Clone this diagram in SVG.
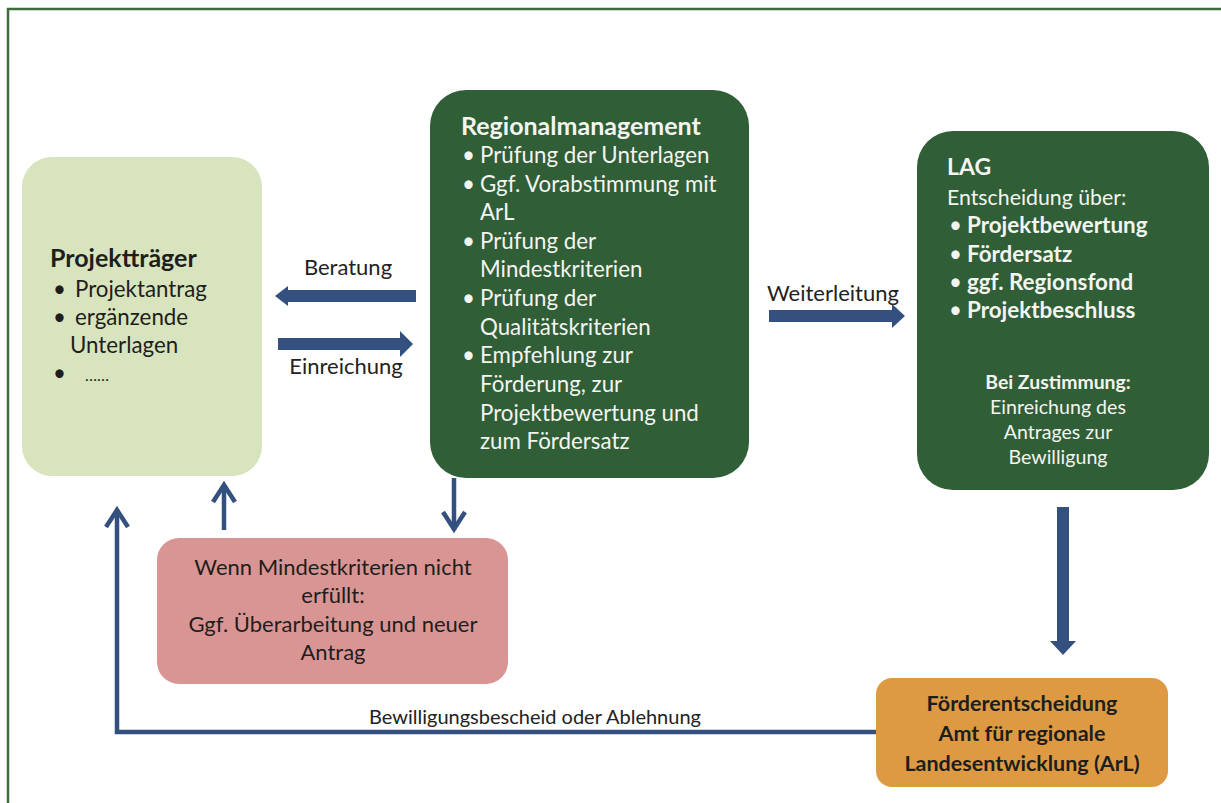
<svg xmlns="http://www.w3.org/2000/svg" width="1221" height="803" viewBox="0 0 1221 803">
<style>
text{font-family:Lato,"Liberation Sans",sans-serif;}
.w{fill:#f4f4f0;font-size:22.3px;}
.wb{fill:#f4f4f0;font-size:22.4px;font-weight:bold;}
.k{fill:#1e1e1e;font-size:22.3px;}
.kb{fill:#1e1e1e;font-size:22px;font-weight:bold;}
.t{font-size:25px;font-weight:bold;}
.lbl{fill:#222;font-size:22px;}
.ln{fill:none;stroke:#33507f;stroke-width:4.5;stroke-linecap:butt;stroke-linejoin:miter;}
.fat{fill:#33507f;}
</style>
<rect x="0" y="0" width="1221" height="803" fill="#ffffff"/>
<rect x="8" y="9" width="1240" height="820" fill="none" stroke="#3f6b3f" stroke-width="2.5"/>

<g id="projekttraeger">
<rect x="22" y="157" width="240" height="319" rx="30" fill="#d7e4bd"/>
<text class="kb t" x="50" y="267">Projektträger</text>
<text class="k" x="53" y="297">•</text><text class="k" x="75" y="297">Projektantrag</text>
<text class="k" x="53" y="325">•</text><text class="k" x="75" y="325">ergänzende</text>
<text class="k" x="70" y="353">Unterlagen</text>
<text class="k" x="53" y="381">•</text><text class="k" x="85" y="381" style="font-size:16px">……</text>
</g>

<g id="regionalmanagement">
<rect x="430" y="90" width="319" height="388" rx="36" fill="#2f5e37"/>
<text class="wb t" x="461" y="135">Regionalmanagement</text>
<text class="w" x="462" y="163">•</text><text class="w" x="480" y="163">Prüfung der Unterlagen</text>
<text class="w" x="462" y="192">•</text><text class="w" x="480" y="192">Ggf. Vorabstimmung mit</text>
<text class="w" x="480" y="220">ArL</text>
<text class="w" x="462" y="249">•</text><text class="w" x="480" y="249">Prüfung der</text>
<text class="w" x="480" y="277">Mindestkriterien</text>
<text class="w" x="462" y="306">•</text><text class="w" x="480" y="306">Prüfung der</text>
<text class="w" x="480" y="335">Qualitätskriterien</text>
<text class="w" x="462" y="363">•</text><text class="w" x="480" y="363">Empfehlung zur</text>
<text class="w" x="480" y="392">Förderung, zur</text>
<text class="w" x="480" y="421">Projektbewertung und</text>
<text class="w" x="480" y="449">zum Fördersatz</text>
</g>

<g id="lag">
<rect x="917" y="131" width="292" height="359" rx="36" fill="#2f5e37"/>
<text class="wb" x="947" y="175" style="font-size:23px">LAG</text>
<text class="w" x="947" y="205" style="font-size:21.3px">Entscheidung über:</text>
<text class="w" x="949" y="233">•</text><text class="wb" x="967" y="233">Projektbewertung</text>
<text class="w" x="949" y="262">•</text><text class="wb" x="967" y="262">Fördersatz</text>
<text class="w" x="949" y="290">•</text><text class="wb" x="967" y="290">ggf. Regionsfond</text>
<text class="w" x="949" y="318">•</text><text class="wb" x="967" y="318">Projektbeschluss</text>
<g text-anchor="middle">
<text class="wb" x="1058" y="389" style="font-size:19.4px">Bei Zustimmung:</text>
<text class="w" x="1058" y="414" style="font-size:19.6px">Einreichung des</text>
<text class="w" x="1058" y="439" style="font-size:19.6px">Antrages zur</text>
<text class="w" x="1058" y="464" style="font-size:19.6px">Bewilligung</text>
</g>
</g>

<g id="mindestkriterien">
<rect x="157" y="538" width="351" height="146" rx="22" fill="#d99594"/>
<g text-anchor="middle">
<text class="k" x="333" y="575" style="font-size:22px">Wenn Mindestkriterien nicht</text>
<text class="k" x="333" y="603" style="font-size:22px">erfüllt:</text>
<text class="k" x="333" y="632" style="font-size:22px">Ggf. Überarbeitung und neuer</text>
<text class="k" x="333" y="660" style="font-size:22px">Antrag</text>
</g>
</g>

<g id="arl">
<rect x="876" y="678" width="292" height="109" rx="16" fill="#dd9a42"/>
<g text-anchor="middle">
<text class="kb" x="1022" y="711" style="font-size:21.5px">Förderentscheidung</text>
<text class="kb" x="1022" y="741" style="font-size:21.5px">Amt für regionale</text>
<text class="kb" x="1022" y="771" style="font-size:21.5px">Landesentwicklung (ArL)</text>
</g>
</g>

<g id="connectors">
<!-- Beratung -->
<polygon class="fat" points="416,290 288,290 288,286 275,296 288,306 288,302 416,302"/>
<text class="lbl" x="348" y="275" text-anchor="middle">Beratung</text>
<!-- Einreichung -->
<polygon class="fat" points="278,338 400,338 400,331 413,344 400,357 400,350 278,350"/>
<text class="lbl" x="346" y="374" text-anchor="middle">Einreichung</text>
<!-- Weiterleitung -->
<polygon class="fat" points="769,310 892,310 892,304 905,316 892,328 892,322 769,322"/>
<text class="lbl" x="833" y="301" text-anchor="middle">Weiterleitung</text>
<!-- LAG to ArL -->
<polygon class="fat" points="1057,507 1069,507 1069,641 1076,641 1063,655 1050,641 1057,641"/>
<!-- RM to pink -->
<line class="ln" x1="454" y1="478" x2="454" y2="530"/>
<polyline class="ln" points="443,512 454,529 465,512"/>
<!-- pink to Projekttraeger -->
<line class="ln" x1="224" y1="530" x2="224" y2="485"/>
<polyline class="ln" points="213,502 224,485 235,502"/>
<!-- ArL back to Projekttraeger -->
<polyline class="ln" points="876,732 117,732 117,510"/>
<polyline class="ln" points="106,527 117,510 128,527"/>
<text class="lbl" x="535" y="724" text-anchor="middle" style="font-size:20px">Bewilligungsbescheid oder Ablehnung</text>
</g>
</svg>
